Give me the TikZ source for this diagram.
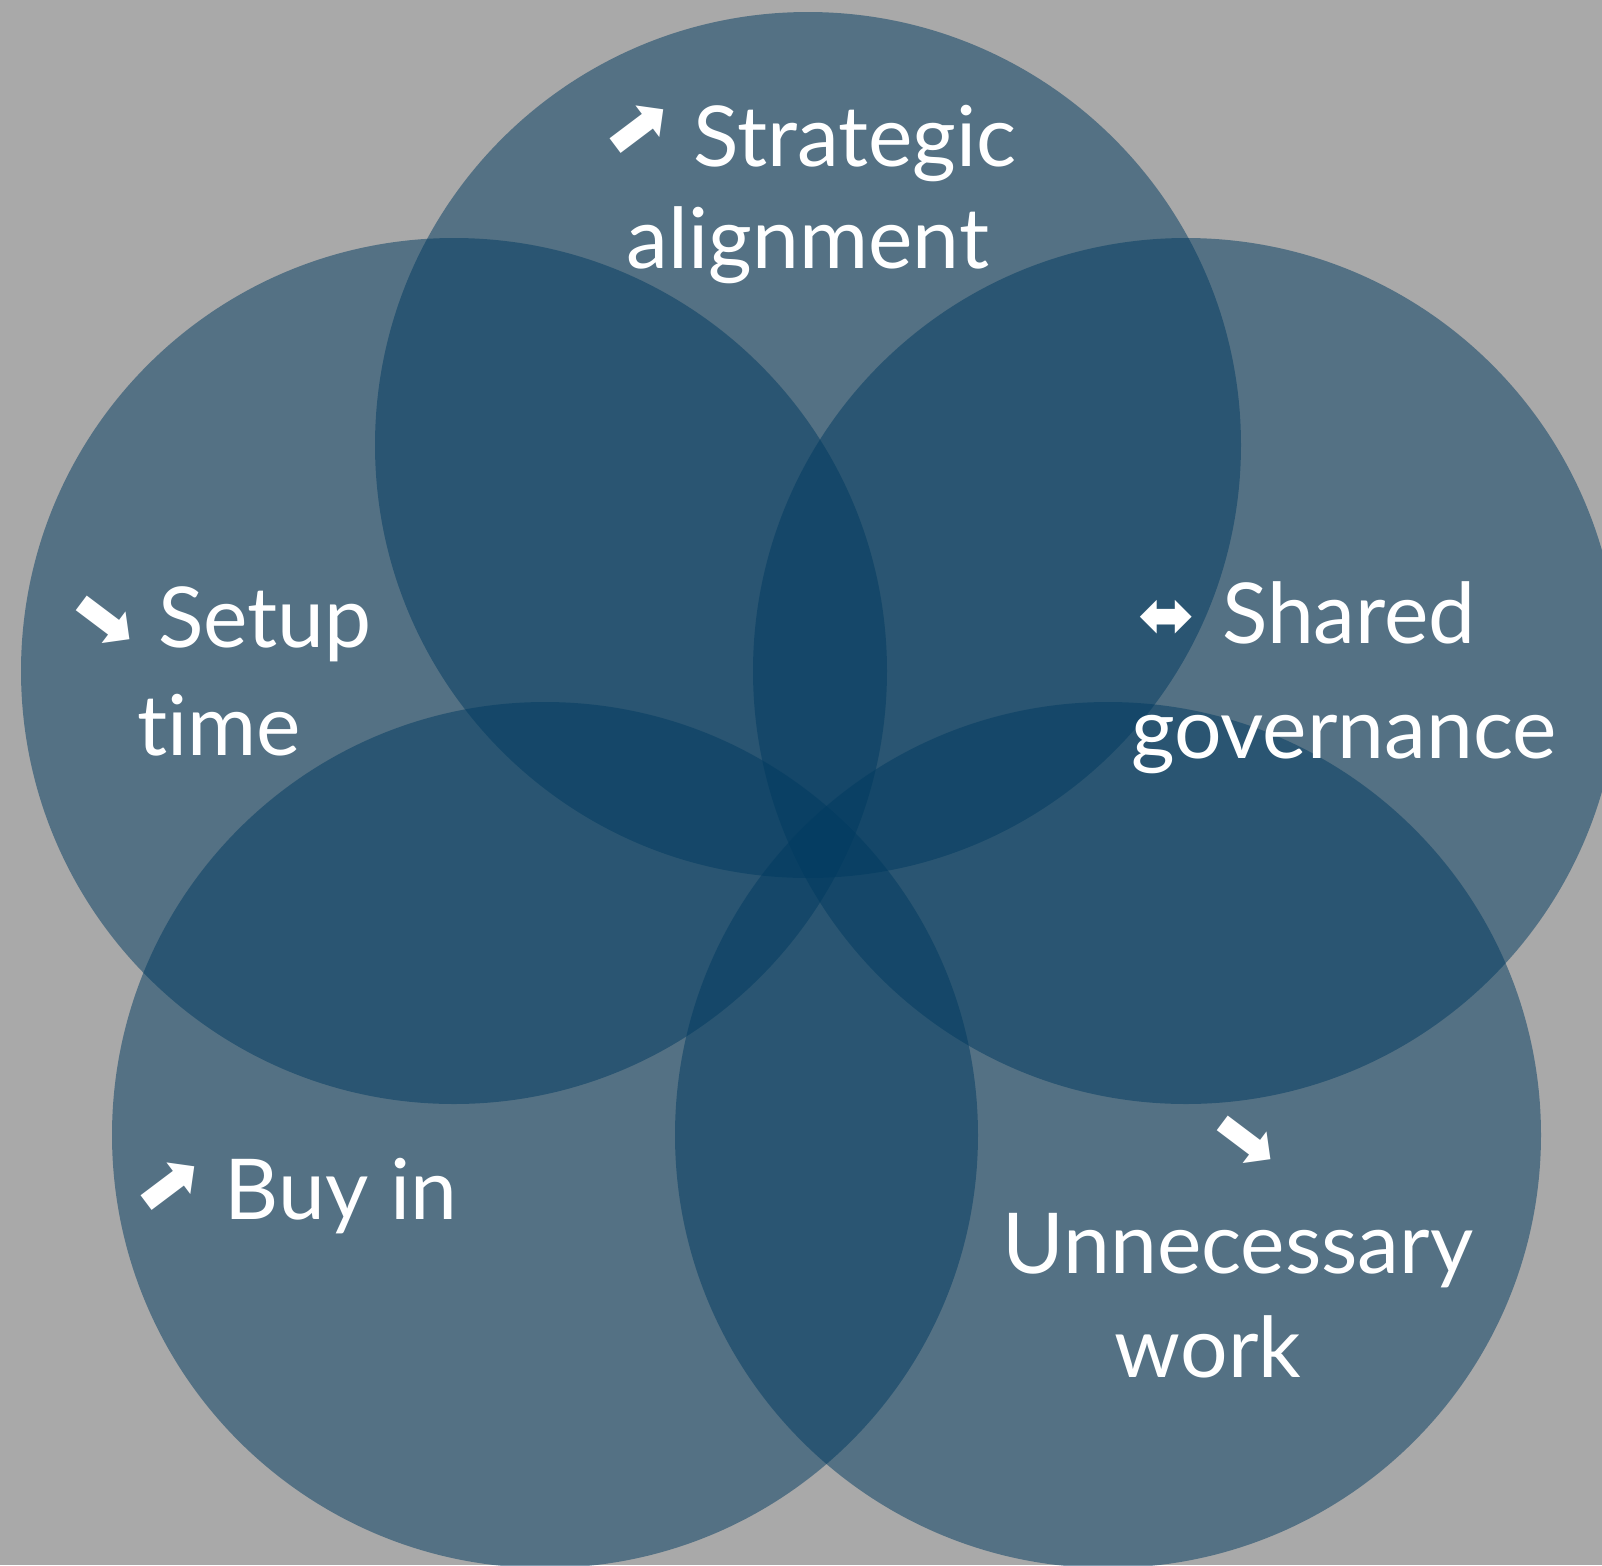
\documentclass[tikz,border=0pt]{standalone}
\usepackage{fontspec}
\setmainfont[Ligatures=NoCommon]{Lato}
\newfontfamily\arrowfont{DejaVu Sans}
\usetikzlibrary{positioning}

\definecolor{bggray}{HTML}{A9A9A9}
\definecolor{petalblue}{HTML}{013B61}

\tikzset{
  petal/.style={circle, fill=petalblue, fill opacity=0.5, minimum size=433pt, inner sep=0pt},
  word/.style={text=white, anchor=base, inner sep=0pt, font=\fontsize{42}{50}\selectfont},
  sym/.style={text=white, inner sep=0pt, font=\arrowfont\fontsize{40}{40}\selectfont},
  symup/.style={sym, rotate=-8},
  symdown/.style={sym, rotate=8}
}

\begin{document}
\begin{tikzpicture}[x=0.5pt, y=-0.5pt]
  \useasboundingbox (0,0) rectangle (1602,1565);
  \clip (0,0) rectangle (1602,1565);
  \fill[bggray] (0,0) rectangle (1602,1565);

  \node[petal] (top) at (808,445) {};
  \node[petal] (left) at (454,671) {};
  \node[petal] (right) at (1186,671) {};
  \node[petal] (botleft) at (545,1135) {};
  \node[petal] (botright) at (1108,1135) {};

  \node[word] (strategic) at (855,166) {Strategic};
  \node[word] (alignment) at (808,268) {alignment};
  \node[symup] (upstrat) at (638,131) {⬈};

  \node[word] (setup) at (265,647) {Setup};
  \node[word] (time) at (219,755) {time};
  \node[symdown] (downsetup) at (104,619) {⬊};

  \node[word] (shared) at (1349,643) {Shared};
  \node[word] (governance) at (1344,758) {governance};
  \node[sym, font=\arrowfont\fontsize{34}{34}\selectfont] (bothshared) at (1167,619) {⬌};

  \node[word] (buyin) at (341,1219) {Buy in};
  \node[symup] (upbuy) at (169,1188) {⬈};

  \node[symdown] (downwork) at (1245,1139) {⬊};
  \node[word] (unnecessary) at (1238,1273) {Unnecessary};
  \node[word] (work) at (1208,1377) {work};
\end{tikzpicture}
\end{document}
